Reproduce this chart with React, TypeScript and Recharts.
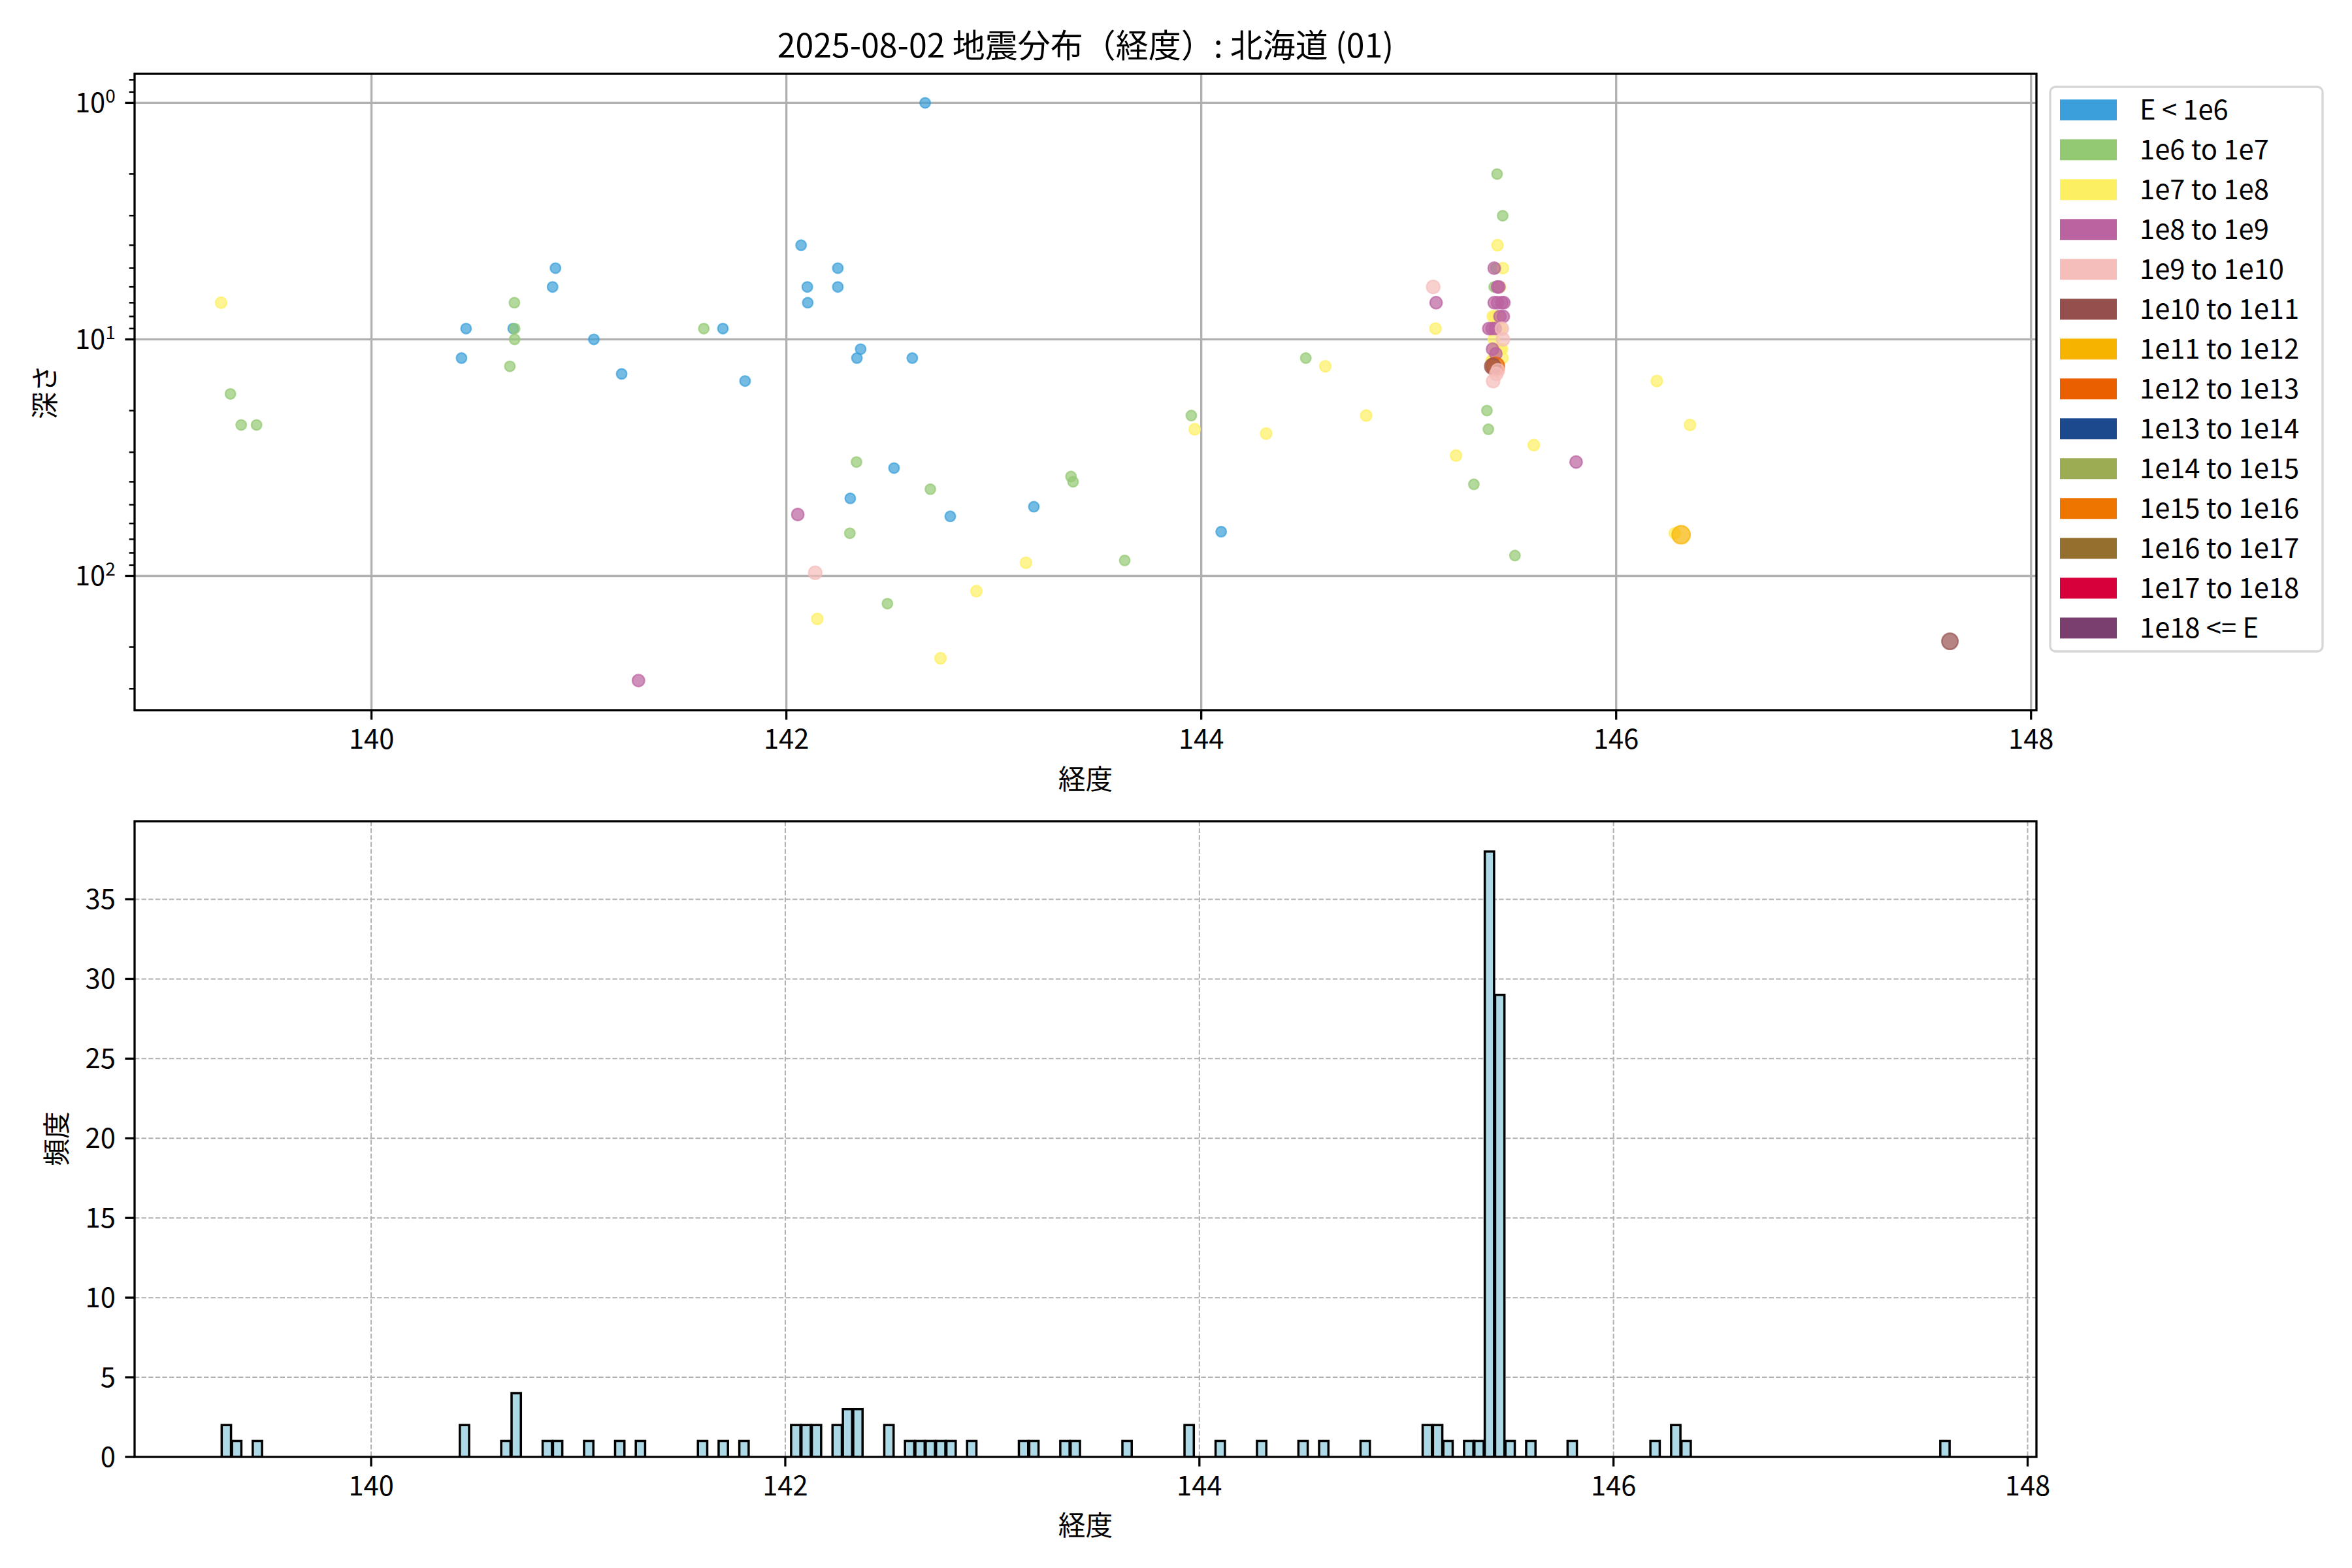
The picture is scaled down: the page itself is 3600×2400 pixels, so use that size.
import {
  ScatterChart,
  Scatter,
  BarChart,
  Bar,
  XAxis,
  YAxis,
  CartesianGrid,
} from 'recharts';

const FONT = '"Noto Sans CJK JP", "Noto Sans", sans-serif';

// --- energy classes (legend order) ---
const CLASS_LABELS = [
  'E < 1e6', '1e6 to 1e7', '1e7 to 1e8', '1e8 to 1e9', '1e9 to 1e10',
  '1e10 to 1e11', '1e11 to 1e12', '1e12 to 1e13', '1e13 to 1e14',
  '1e14 to 1e15', '1e15 to 1e16', '1e16 to 1e17', '1e17 to 1e18', '1e18 <= E',
];
const CLASS_COLORS = [
  '#3a9fda', '#94c973', '#fdef62', '#bb62a0', '#f5bebb',
  '#95504e', '#f6b400', '#ea5f00', '#1c488e',
  '#9bac52', '#ee7600', '#956f2e', '#d8003a', '#7a3f6f',
];
// marker diameter (px) for each class
const CLASS_SIZES = [18, 18, 19.5, 21, 22.5, 27, 30, 30, 35, 37, 39, 41, 43, 45];

// --- scatter points: [longitude, depth km] per class ---
const E_LT_1E6: [number, number][] = [
  [140.456, 9], [140.434, 12], [140.887, 5], [140.873, 6], [140.683, 9],
  [141.072, 10], [141.206, 14], [141.694, 9], [141.801, 15],
  [142.669, 1], [142.071, 4], [142.248, 5], [142.101, 6], [142.248, 6],
  [142.103, 7], [142.358, 11], [142.34, 12], [142.607, 12], [142.519, 35],
  [142.308, 47], [142.79, 56], [143.193, 51], [144.096, 65],
];
const E_1E6_1E7: [number, number][] = [
  [139.32, 17], [139.372, 23], [139.446, 23], [140.689, 7], [140.69, 9],
  [140.69, 10], [140.667, 13], [141.602, 9],
  [142.338, 33], [142.694, 43], [143.372, 38], [143.382, 40], [142.306, 66],
  [142.487, 131], [143.631, 86], [143.952, 21], [144.504, 12],
  [145.426, 2], [145.453, 3], [145.42, 5], [145.412, 6], [145.377, 20],
  [145.384, 24], [145.314, 41], [145.512, 82],
];
const E_1E7_1E8: [number, number][] = [
  [139.275, 7], [142.149, 152], [142.743, 223], [142.916, 116], [143.155, 88],
  [143.968, 24], [144.313, 25], [144.598, 13], [144.795, 21],
  [145.129, 9], [145.228, 31], [145.603, 28], [146.196, 15], [146.356, 23],
  [146.282, 66],
  [145.428, 4], [145.454, 5], [145.44, 6], [145.405, 8], [145.43, 8],
  [145.415, 8], [145.444, 9], [145.41, 10], [145.415, 11], [145.441, 11],
  [145.45, 11], [145.41, 12], [145.452, 12], [145.4, 12.3],
];
const E_1E8_1E9: [number, number][] = [
  [141.287, 277], [142.055, 55], [145.132, 7], [145.807, 33],
  [145.412, 5], [145.435, 6], [145.428, 6], [145.412, 7], [145.428, 7],
  [145.449, 7], [145.459, 7], [145.456, 8], [145.44, 8], [145.386, 9],
  [145.402, 9], [145.417, 9], [145.404, 11], [145.42, 11.5],
];
const E_1E9_1E10: [number, number][] = [
  [142.139, 97], [145.118, 6], [145.449, 9], [145.454, 10], [145.422, 14],
  [145.407, 15], [145.43, 13.5],
];
const E_1E10_1E11: [number, number][] = [[145.405, 13], [147.609, 189]];
const E_1E11_1E12: [number, number][] = [[146.313, 67]];
const E_1E12_1E13: [number, number][] = [[145.418, 13]];

const CLASS_POINTS = [
  E_LT_1E6, E_1E6_1E7, E_1E7_1E8, E_1E8_1E9, E_1E9_1E10,
  E_1E10_1E11, E_1E11_1E12, E_1E12_1E13,
];
// drawing order (class index): orange ring sits under the brown one
const DRAW_ORDER = [0, 1, 2, 3, 7, 5, 4, 6];

// --- histogram: 0.05 degree bins starting at 139.275 ---
const HIST_START = 139.275;
const HIST_WIDTH = 0.05;
const HIST_COUNTS = [
  2, 1, 0, 1, 0, 0, 0, 0, 0, 0,
  0, 0, 0, 0, 0, 0, 0, 0, 0, 0,
  0, 0, 0, 2, 0, 0, 0, 1, 4, 0,
  0, 1, 1, 0, 0, 1, 0, 0, 1, 0,
  1, 0, 0, 0, 0, 0, 1, 0, 1, 0,
  1, 0, 0, 0, 0, 2, 2, 2, 0, 2,
  3, 3, 0, 0, 2, 0, 1, 1, 1, 1,
  1, 0, 1, 0, 0, 0, 0, 1, 1, 0,
  0, 1, 1, 0, 0, 0, 0, 1, 0, 0,
  0, 0, 0, 2, 0, 0, 1, 0, 0, 0,
  1, 0, 0, 0, 1, 0, 1, 0, 0, 0,
  1, 0, 0, 0, 0, 0, 2, 2, 1, 0,
  1, 1, 38, 29, 1, 0, 1, 0, 0, 0,
  1, 0, 0, 0, 0, 0, 0, 0, 1, 0,
  2, 1, 0, 0, 0, 0, 0, 0, 0, 0,
  0, 0, 0, 0, 0, 0, 0, 0, 0, 0,
  0, 0, 0, 0, 0, 0, 1,
];

// --- ticks ---
const LON_TICKS = [140, 142, 144, 146, 148];
const DEPTH_TICKS = [
  0.8, 0.9, 1, 2, 3, 4, 5, 6, 7, 8, 9, 10,
  20, 30, 40, 50, 60, 70, 80, 90, 100, 200, 300,
];
const DEPTH_MAJOR = [1, 10, 100];
const FREQ_TICKS = [0, 5, 10, 15, 20, 25, 30, 35];

// layout (px)
const PLOT_L = 206;
const PLOT_R = 3117;
const TOP_T = 113;
const TOP_B = 1087;
const BOT_T = 1257;
const BOT_B = 2230;
const TICK = 14.6;
const LW = 3.3;

const histData = HIST_COUNTS.map((c, i) => ({
  x: HIST_START + (i + 0.5) * HIST_WIDTH,
  count: c,
}));

const tickStyle = { fill: '#000', fontSize: 41.7, fontFamily: FONT };

const DepthTick = ({ x, y, payload }: any) => {
  const v = payload.value;
  const lg = Math.log10(v);
  const exp = Math.round(lg);
  const major = Math.abs(lg - exp) < 1e-9;
  return (
    <g>
      <line x1={x} x2={x - (major ? TICK : 8.3)} y1={y} y2={y} stroke="#000" strokeWidth={major ? LW : 2.5} />
      {major && (
        <text x={x - TICK * 2} y={y + 15} textAnchor="end" fontSize={41.7} fontFamily={FONT} fill="#000">
          10<tspan dy={-15} fontSize={28}>{exp}</tspan>
        </text>
      )}
    </g>
  );
};

const dot = (color: string, d: number) => (p: any) => (
  <circle
    cx={p.cx}
    cy={p.cy}
    r={d / 2 - 1.2}
    fill={color}
    fillOpacity={0.7}
    stroke={color}
    strokeOpacity={0.7}
    strokeWidth={2.4}
  />
);

const Overlay = () => (
  <svg width={3600} height={2400} style={{ position: 'absolute', left: 0, top: 0, pointerEvents: 'none' }}>
    <rect x={PLOT_L} y={TOP_T} width={PLOT_R - PLOT_L} height={TOP_B - TOP_T} fill="none" stroke="#000" strokeWidth={LW} />
    <rect x={PLOT_L} y={BOT_T} width={PLOT_R - PLOT_L} height={BOT_B - BOT_T} fill="none" stroke="#000" strokeWidth={LW} />

    <text x={(PLOT_L + PLOT_R) / 2} y={88} textAnchor="middle" fontSize={50} fontFamily={FONT} fill="#000">
      2025-08-02 地震分布（経度）: 北海道 (01)
    </text>
    <text x={(PLOT_L + PLOT_R) / 2} y={1208} textAnchor="middle" fontSize={41.7} fontFamily={FONT} fill="#000">経度</text>
    <text x={(PLOT_L + PLOT_R) / 2} y={2350} textAnchor="middle" fontSize={41.7} fontFamily={FONT} fill="#000">経度</text>
    <text x={66} y={600} transform="rotate(-90 66 600)" textAnchor="middle" dominantBaseline="central" fontSize={41.7} fontFamily={FONT} fill="#000">深さ</text>
    <text x={84} y={1743} transform="rotate(-90 84 1743)" textAnchor="middle" dominantBaseline="central" fontSize={41.7} fontFamily={FONT} fill="#000">頻度</text>

    {/* legend */}
    <rect x={3138} y={133} width={417} height={864} rx={8} fill="#fff" fillOpacity={0.8} stroke="#d6d6d6" strokeWidth={LW} />
    {CLASS_LABELS.map((label, i) => {
      const cy = 168.3 + i * 61;
      return (
        <g key={label}>
          <rect x={3153} y={cy - 16} width={87} height={32} fill={CLASS_COLORS[i]} />
          <text x={3275} y={cy + 15} fontSize={41.7} fontFamily={FONT} fill="#000">{label}</text>
        </g>
      );
    })}
  </svg>
);

export default function App() {
  return (
    <div style={{ position: 'absolute', left: 0, top: 0, width: 3600, height: 2400, background: '#fff' }}>
      <div style={{ position: 'absolute', left: 0, top: 0 }}>
        <ScatterChart width={3600} height={1200} margin={{ top: TOP_T, right: 3600 - PLOT_R, bottom: 0, left: 0 }}>
          <CartesianGrid
            stroke="#b0b0b0"
            strokeWidth={LW}
            horizontalValues={DEPTH_MAJOR}
            verticalValues={LON_TICKS}
          />
          <XAxis
            type="number"
            dataKey="lon"
            domain={[138.858, 148.026]}
            allowDataOverflow
            ticks={LON_TICKS}
            interval={0}
            height={1200 - TOP_B}
            axisLine={false}
            tickSize={TICK}
            tickMargin={TICK}
            tickLine={{ stroke: '#000', strokeWidth: LW }}
            tick={tickStyle}
          />
          <YAxis
            type="number"
            dataKey="depth"
            scale="log"
            reversed
            domain={[0.754, 369.5]}
            allowDataOverflow
            ticks={DEPTH_TICKS}
            interval={0}
            width={PLOT_L}
            axisLine={false}
            tickLine={false}
            tickSize={0}
            tickMargin={0}
            tick={<DepthTick />}
          />
          {DRAW_ORDER.map((i) => (
            <Scatter
              key={CLASS_LABELS[i]}
              name={CLASS_LABELS[i]}
              data={CLASS_POINTS[i].map(([lon, depth]) => ({ lon, depth }))}
              fill={CLASS_COLORS[i]}
              shape={dot(CLASS_COLORS[i], CLASS_SIZES[i])}
              isAnimationActive={false}
            />
          ))}
        </ScatterChart>
      </div>
      <div style={{ position: 'absolute', left: 0, top: 1200 }}>
        <BarChart
          width={3600}
          height={1200}
          data={histData}
          barCategoryGap={0}
          margin={{ top: BOT_T - 1200, right: 3600 - PLOT_R, bottom: 0, left: 0 }}
        >
          <CartesianGrid
            stroke="#b0b0b0"
            strokeWidth={2}
            strokeDasharray="7.4 3.2"
            horizontalValues={FREQ_TICKS}
            verticalValues={LON_TICKS}
          />
          <XAxis
            type="number"
            dataKey="x"
            domain={[138.8575, 148.0425]}
            allowDataOverflow
            ticks={LON_TICKS}
            interval={0}
            height={2400 - BOT_B}
            axisLine={false}
            tickSize={TICK}
            tickMargin={TICK}
            tickLine={{ stroke: '#000', strokeWidth: LW }}
            tick={tickStyle}
          />
          <YAxis
            type="number"
            domain={[0, 39.9]}
            allowDataOverflow
            ticks={FREQ_TICKS}
            interval={0}
            width={PLOT_L}
            axisLine={false}
            tickSize={TICK}
            tickMargin={TICK}
            tickLine={{ stroke: '#000', strokeWidth: LW }}
            tick={tickStyle}
          />
          <Bar
            dataKey="count"
            fill="#add8e6"
            stroke="#000"
            strokeWidth={3.5}
            barSize={15.85}
            isAnimationActive={false}
          />
        </BarChart>
      </div>
      <Overlay />
    </div>
  );
}
